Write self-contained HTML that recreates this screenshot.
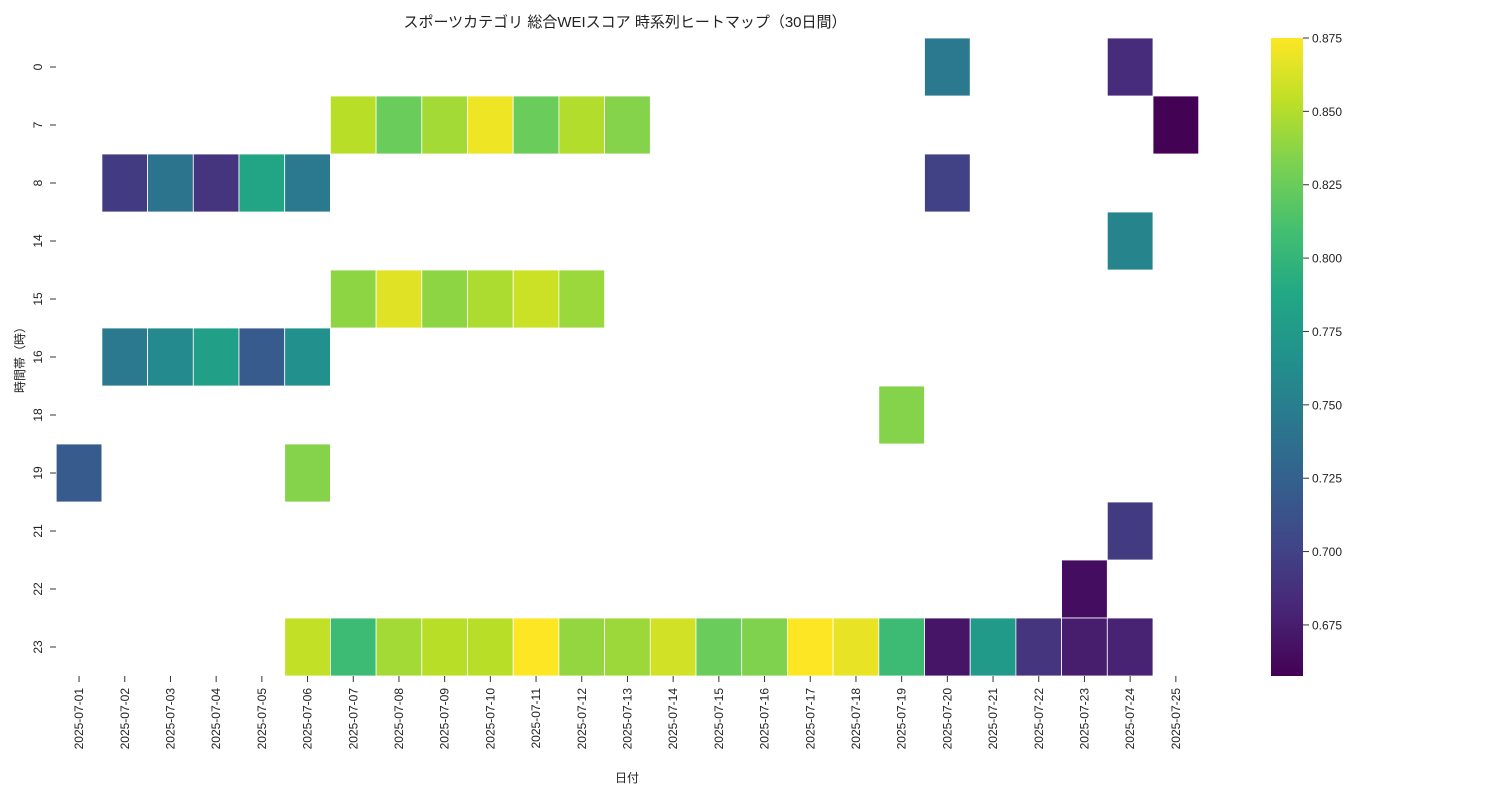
<!DOCTYPE html>
<html><head><meta charset="utf-8">
<style>
body{margin:0;background:#fff;}
svg text{font-family:"Liberation Sans","Noto Sans CJK JP",sans-serif;fill:#222;}
</style></head>
<body>
<svg id="chart" width="1500" height="800" xmlns="http://www.w3.org/2000/svg">
<defs>
<linearGradient id="vir" x1="0" y1="1" x2="0" y2="0">
<stop offset="0" stop-color="#440154"/><stop offset="0.1" stop-color="#482475"/><stop offset="0.2" stop-color="#414487"/><stop offset="0.3" stop-color="#355f8d"/><stop offset="0.4" stop-color="#2a788e"/><stop offset="0.5" stop-color="#21918c"/><stop offset="0.6" stop-color="#22a884"/><stop offset="0.7" stop-color="#44bf70"/><stop offset="0.8" stop-color="#7ad151"/><stop offset="0.9" stop-color="#bddf26"/><stop offset="1" stop-color="#fde725"/>
</linearGradient>
</defs>
<text x="625" y="27" text-anchor="middle" font-size="15">スポーツカテゴリ 総合WEIスコア 時系列ヒートマップ（30日間）</text>
<text x="627" y="782" text-anchor="middle" font-size="12">日付</text>
<text transform="translate(24,357) rotate(-90)" text-anchor="middle" font-size="12">時間帯（時）</text>
<g id="cells"></g><g id="xt"></g><g id="yt"></g>
<rect x="1271" y="38" width="32" height="638" fill="url(#vir)"/>
<g id="cb"></g>
</svg>
<script>
const dates=["2025-07-01","2025-07-02","2025-07-03","2025-07-04","2025-07-05","2025-07-06","2025-07-07","2025-07-08","2025-07-09","2025-07-10","2025-07-11","2025-07-12","2025-07-13","2025-07-14","2025-07-15","2025-07-16","2025-07-17","2025-07-18","2025-07-19","2025-07-20","2025-07-21","2025-07-22","2025-07-23","2025-07-24","2025-07-25"];
const hours=[0,7,8,14,15,16,18,19,21,22,23];
// [hourIndex, dateIndex, value]
const cellValues=[
[0,19,0.745],[0,23,0.685],
[1,6,0.852],[1,7,0.825],[1,8,0.845],[1,9,0.870],[1,10,0.825],[1,11,0.850],[1,12,0.835],[1,24,0.658],
[2,1,0.695],[2,2,0.740],[2,3,0.690],[2,4,0.785],[2,5,0.745],[2,19,0.700],
[3,23,0.755],
[4,6,0.838],[4,7,0.865],[4,8,0.838],[4,9,0.848],[4,10,0.858],[4,11,0.842],
[5,1,0.745],[5,2,0.760],[5,3,0.780],[5,4,0.720],[5,5,0.765],
[6,18,0.835],
[7,0,0.720],[7,5,0.835],
[8,23,0.695],
[9,22,0.665],
[10,5,0.855],[10,6,0.805],[10,7,0.845],[10,8,0.852],[10,9,0.852],[10,10,0.875],[10,11,0.840],[10,12,0.843],[10,13,0.860],[10,14,0.825],[10,15,0.833],[10,16,0.875],[10,17,0.868],[10,18,0.805],[10,19,0.670],[10,20,0.775],[10,21,0.690],[10,22,0.675],[10,23,0.678]
];
const cbTicks=[0.675,0.700,0.725,0.750,0.775,0.800,0.825,0.850,0.875];
const vmin=0.6576,vmax=0.8750;
const X0=56.2,CW=45.7,Y0=38,RH=58;
const stops=["#440154","#482475","#414487","#355f8d","#2a788e","#21918c","#22a884","#44bf70","#7ad151","#bddf26","#fde725"].map(h=>[1,3,5].map(i=>parseInt(h.substr(i,2),16)));
function vir(v){let t=Math.max(0,Math.min(1,(v-vmin)/(vmax-vmin)))*10;let i=Math.min(9,Math.floor(t)),f=t-i;const a=stops[i],b=stops[i+1];return "rgb("+a.map((c,k)=>Math.round(c+(b[k]-c)*f)).join(",")+")";}
const xs=i=>X0+i*CW, ys=j=>Y0+j*RH, cby=v=>676-(v-vmin)/(vmax-vmin)*638;
const NS="http://www.w3.org/2000/svg";
function mk(tag,attrs,parent){const e=document.createElementNS(NS,tag);for(const k in attrs)e.setAttribute(k,attrs[k]);parent.appendChild(e);return e;}
const cells=document.getElementById("cells");
cellValues.forEach(c=>{const r=mk("rect",{x:xs(c[1]),y:ys(c[0]),width:CW,height:RH,fill:vir(c[2]),stroke:"#fff","stroke-width":0.8},cells);

});
const xt=document.getElementById("xt");
dates.forEach((d,i)=>{const cx=xs(i)+CW/2;mk("line",{x1:cx,x2:cx,y1:676,y2:682,stroke:"#333"},xt);
const t=mk("text",{transform:`translate(${cx+4},688) rotate(-90)`,"text-anchor":"end","font-size":12},xt);t.textContent=d;

});
const yt=document.getElementById("yt");
hours.forEach((h,j)=>{const cy=ys(j)+RH/2;mk("line",{x1:50,x2:56,y1:cy,y2:cy,stroke:"#333"},yt);
const t=mk("text",{transform:`translate(42,${cy}) rotate(-90)`,"text-anchor":"middle","font-size":12},yt);t.textContent=h;

});
const cb=document.getElementById("cb");
cbTicks.forEach(v=>{const y=cby(v);mk("line",{x1:1303,x2:1309,y1:y,y2:y,stroke:"#333"},cb);
const t=mk("text",{x:1312,y:y+4.5,"font-size":12},cb);t.textContent=v.toFixed(3);

});
</script>
</body></html>
